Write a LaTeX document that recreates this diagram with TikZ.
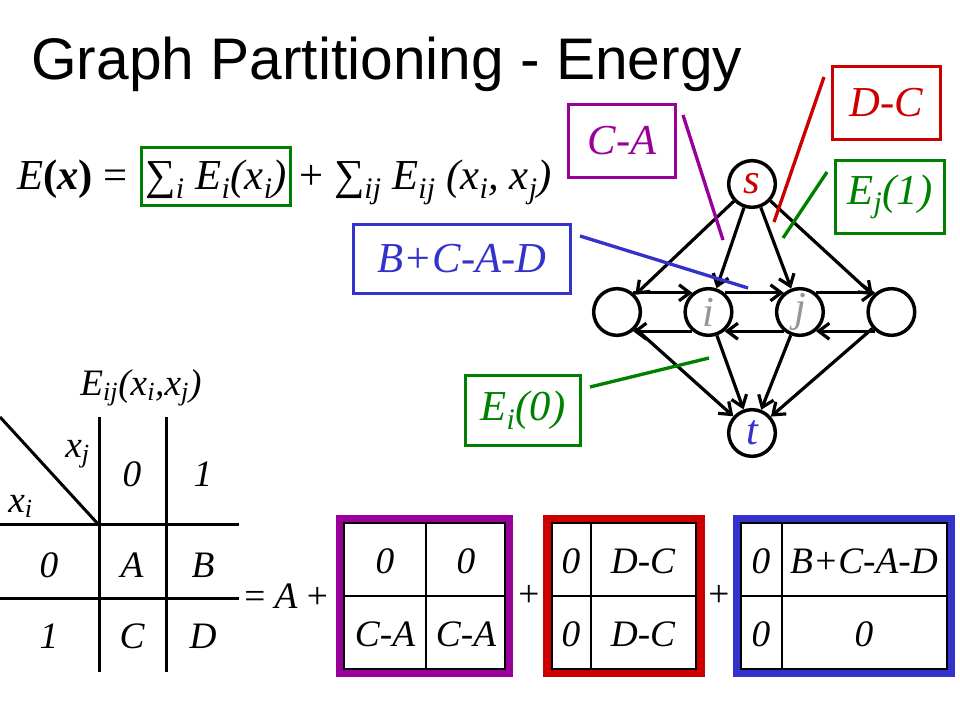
\documentclass[tikz,border=0pt]{standalone}
\usepackage{fontspec}
\setmainfont{Liberation Serif}
\newfontfamily\headfont{Liberation Sans}
\usetikzlibrary{%
  arrows.meta,%
  positioning,%
  calc%
}
\definecolor{cpurple}{RGB}{153,0,153}
\definecolor{cred}{RGB}{204,0,0}
\definecolor{cgreen}{RGB}{0,128,0}
\definecolor{cblue}{RGB}{51,51,204}
\definecolor{cgray}{RGB}{150,150,150}
\newcommand{\lowix}[1]{\textsubscript{#1}}

\begin{document}
\begin{tikzpicture}[
    x=0.75pt, y=-0.75pt,
    vertex/.style={circle, draw, line width=2.6pt, minimum size=35pt,
        inner sep=0pt, font=\fontsize{32}{36}\selectfont\itshape},
    flow/.style={line width=2.4pt, -{Straight Barb[length=8pt,width=12pt]}},
    tag/.style={draw, line width=2.25pt, inner sep=0pt,
        font=\fontsize{32}{36}\selectfont\itshape},
    formula/.style={inner sep=0pt, font=\fontsize{32}{36}\selectfont},
    pointer/.style={line width=2.5pt},
    cell/.style={inner sep=0pt, font=\fontsize{28}{32}\selectfont\itshape},
    frame/.style={line width=6pt},
    rule/.style={line width=2.25pt},
    grid/.style={line width=1.5pt}
]
    \useasboundingbox (0,0) rectangle (960,720);
    % title
    \node[anchor=base west, inner sep=0pt, font=\headfont\fontsize{44}{50}\selectfont]
        (title) at (31,80) {Graph Partitioning - Energy};

    % energy
    \node[formula, anchor=base west] (lhs) at (17,190)
        {\textit{E}\textbf{(\textit{x})} =};
    \node[formula, base right=9pt of lhs, draw=cgreen, line width=2.25pt,
        text height=26pt, text depth=6pt, inner ysep=6pt, minimum width=112pt]
        (unary) {\textit{∑\lowix{i} E\lowix{i}(x\lowix{i})}};
    \node[formula, base right=5pt of unary] (pair)
        {+ \textit{∑\lowix{ij} E\lowix{ij} (x\lowix{i}, x\lowix{j})}};

    % graph
    \node[vertex, text=cred] (s) at (752,184) {s};
    \node[vertex] (n1) at (617,312) {};
    \node[vertex, right=31pt of n1, text=cgray] (i) {i};
    \node[vertex, right=31pt of i, text=cgray] (j) {j};
    \node[vertex, right=31pt of j] (n4) {};
    \node[vertex, text=cblue] (t) at (752,433) {t};
    \draw[flow] (s) -- (n1);
    \draw[flow] (s) -- (i);
    \draw[flow] (s) -- (j);
    \draw[flow] (s) -- (n4);
    \draw[flow] (n1.50) -- (i.130);
    \draw[flow] (i.50) -- (j.130);
    \draw[flow] (j.50) -- (n4.130);
    \draw[flow] (n4.230) -- (j.310);
    \draw[flow] (j.230) -- (i.310);
    \draw[flow] (i.230) -- (n1.310);
    \draw[flow] (n1) -- (t);
    \draw[flow] (i) -- (t);
    \draw[flow] (j) -- (t);
    \draw[flow] (n4) -- (t);

    % labels on the graph
    \node[tag, draw=cpurple, text=cpurple, minimum width=80pt, minimum height=55pt]
        (ca) at (622,141) {C-A};
    \node[tag, draw=cred, text=cred, minimum width=81pt, minimum height=55pt]
        (dc) at (886.5,103) {D-C};
    \node[tag, draw=cgreen, text=cgreen, minimum width=82pt, minimum height=55pt]
        (ej) at (890,197) {E\lowix{j}(1)};
    \node[tag, draw=cblue, text=cblue, minimum width=163pt, minimum height=52pt]
        (bcad) at (462,259) {B+C-A-D};
    \node[tag, draw=cgreen, text=cgreen, minimum width=86pt, minimum height=52.5pt]
        (ei) at (523,410.5) {E\lowix{i}(0)};
    \coordinate (caFrom) at (683,115);
    \coordinate (caTip) at (723,240);
    \coordinate (dcFrom) at (824,77);
    \coordinate (dcTip) at (774,222);
    \coordinate (ejFrom) at (827,172);
    \coordinate (ejTip) at (783,238);
    \coordinate (bcadFrom) at (580,236);
    \coordinate (bcadTip) at (748,288);
    \coordinate (eiFrom) at (590,387);
    \coordinate (eiTip) at (709,358);
    \draw[pointer, cpurple] (caFrom) -- (caTip);
    \draw[pointer, cred] (dcFrom) -- (dcTip);
    \draw[pointer, cgreen] (ejFrom) -- (ejTip);
    \draw[pointer, cblue] (bcadFrom) -- (bcadTip);
    \draw[pointer, cgreen] (eiFrom) -- (eiTip);

    % pairwise table
    \node[cell, anchor=base west] (pairname) at (80,395)
        {E\lowix{ij}(x\lowix{i},x\lowix{j})};
    \draw[rule] (0,417) -- (98,524);
    \draw[rule] (99,417) -- (99,672);
    \draw[rule] (166,417) -- (166,672);
    \draw[rule] (0,524) -- (239,524);
    \draw[rule] (0,598) -- (239,598);
    \node[cell, anchor=base west] (xj) at (65,457) {x\lowix{j}};
    \node[cell, anchor=base west] (xi) at (8,512) {x\lowix{i}};
    \node[cell] (col0) at (132,474) {0};
    \node[cell] (col1) at (203,474) {1};
    \node[cell] (row0) at (49,565) {0};
    \node[cell] (row1) at (49,636) {1};
    \node[cell] (a) at (132,565) {A};
    \node[cell] (b) at (203,565) {B};
    \node[cell] (c) at (132,636) {C};
    \node[cell] (d) at (203,636) {D};
    \node[cell, anchor=base west, font=\fontsize{28}{32}\selectfont] (eqa) at (244,608)
        {= \textit{A} +};

    % decomposition
    \draw[frame, cpurple] (340,519) rectangle (509,673);
    \draw[grid] (344,523) rectangle (505,669);
    \draw[grid] (426,523) -- (426,669);
    \draw[grid] (344,596) -- (505,596);
    \node[cell] (p00) at (385,561) {0};
    \node[cell] (p01) at (466,561) {0};
    \node[cell] (p10) at (385,634) {C-A};
    \node[cell] (p11) at (466,634) {C-A};
    \node[cell, anchor=base, font=\fontsize{28}{32}\selectfont] (plus1) at (529,606) {+};

    \draw[frame, cred] (547,519) rectangle (701,673);
    \draw[grid] (552,523) rectangle (696,669);
    \draw[grid] (591,523) -- (591,669);
    \draw[grid] (552,596) -- (696,596);
    \node[cell] (r00) at (571,561) {0};
    \node[cell] (r01) at (643,561) {D-C};
    \node[cell] (r10) at (571,634) {0};
    \node[cell] (r11) at (643,634) {D-C};
    \node[cell, anchor=base, font=\fontsize{28}{32}\selectfont] (plus2) at (719,606) {+};

    \draw[frame, cblue] (737,519) rectangle (951,673);
    \draw[grid] (741,523) rectangle (947,669);
    \draw[grid] (782,523) -- (782,669);
    \draw[grid] (741,596) -- (947,596);
    \node[cell] (b00) at (761,561) {0};
    \node[cell] (b01) at (864,561) {B+C-A-D};
    \node[cell] (b10) at (761,634) {0};
    \node[cell] (b11) at (864,634) {0};
\end{tikzpicture}
\end{document}
